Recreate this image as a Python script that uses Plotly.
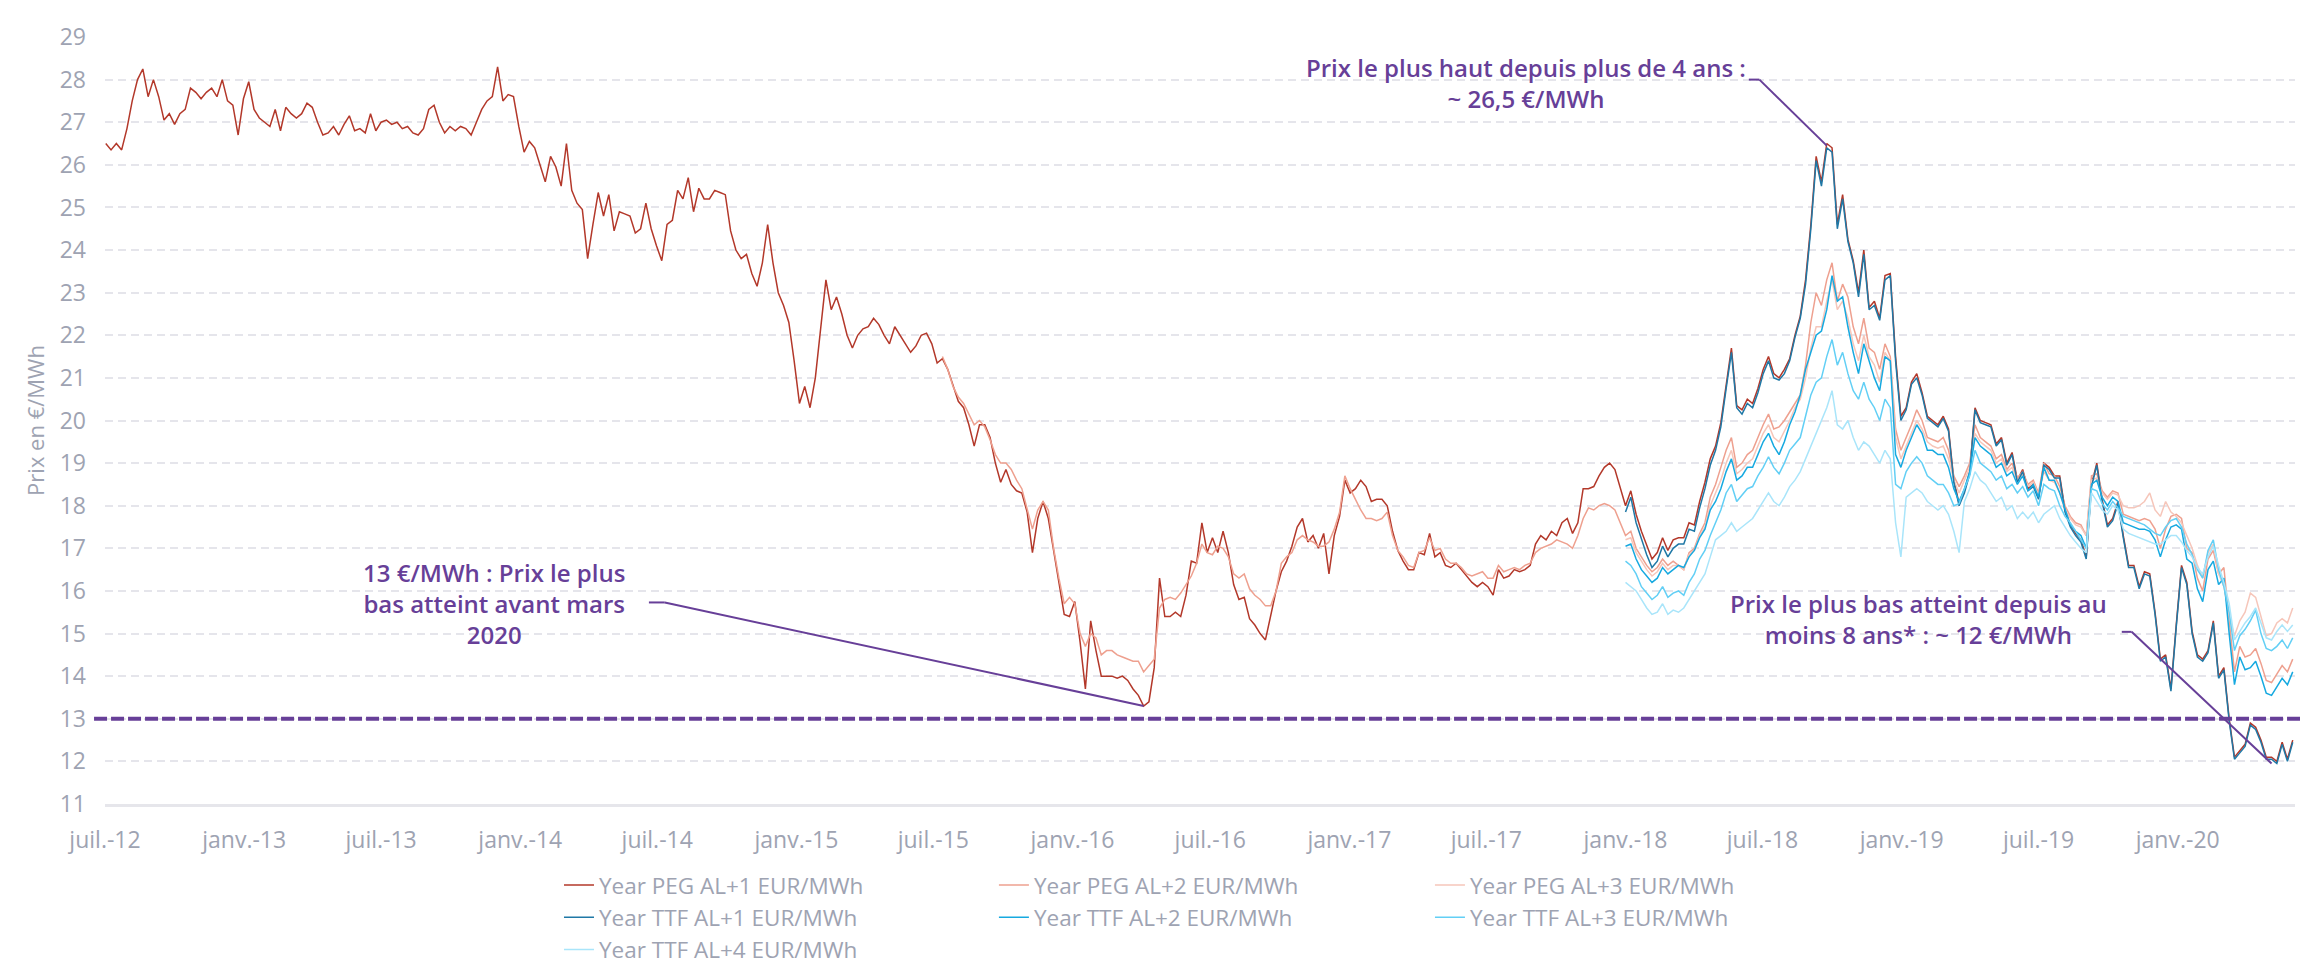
import pandas as pd
import plotly.graph_objects as go

# Weekly year-ahead gas prices, EUR/MWh
peg_al1 = [
    26.5, 26.35, 26.5, 26.35, 26.85, 27.5, 28.0, 28.25, 27.6, 28.0,
    27.6, 27.05, 27.2, 26.95, 27.2, 27.3, 27.8, 27.7, 27.55, 27.7,
    27.8, 27.6, 28.0, 27.5, 27.4, 26.7, 27.55, 27.95, 27.3, 27.1,
    27.0, 26.9, 27.3, 26.8, 27.35, 27.2, 27.1, 27.2, 27.45, 27.35,
    27.0, 26.7, 26.75, 26.9, 26.7, 26.95, 27.15, 26.8, 26.85, 26.75,
    27.2, 26.8, 27.0, 27.05, 26.95, 27.0, 26.85, 26.9, 26.75, 26.7,
    26.85, 27.3, 27.4, 27.0, 26.75, 26.9, 26.8, 26.9, 26.85, 26.7,
    27.0, 27.3, 27.5, 27.6, 28.3, 27.5, 27.65, 27.6, 26.9, 26.3,
    26.55, 26.4, 26.0, 25.6, 26.2, 25.95, 25.5, 26.5, 25.4, 25.1,
    24.95, 23.8, 24.6, 25.35, 24.8, 25.3, 24.45, 24.9, 24.85, 24.8,
    24.4, 24.5, 25.1, 24.5, 24.1, 23.75, 24.6, 24.7, 25.4, 25.2,
    25.7, 24.9, 25.45, 25.2,
    25.2, 25.4, 25.35, 25.3, 24.45, 24.0, 23.8, 23.9, 23.45, 23.15,
    23.7, 24.6, 23.7, 23.0, 22.7, 22.3, 21.4, 20.4, 20.8, 20.3,
    21.0, 22.1, 23.3, 22.6, 22.9, 22.5, 22.0, 21.7, 22.0, 22.15,
    22.2, 22.4, 22.25, 22.0, 21.8, 22.2, 22.0, 21.8, 21.6, 21.75,
    22.0, 22.05, 21.8, 21.35, 21.45, 21.2, 20.8, 20.45, 20.3, 19.9,
    19.4, 19.9, 19.9, 19.6, 19.0, 18.55, 18.85, 18.5, 18.35, 18.3,
    17.85, 16.9, 17.7, 18.1, 17.7, 16.9, 16.2, 15.45, 15.4, 15.75,
    14.8, 13.7, 15.3, 14.6, 14.0, 14.0, 14.0, 13.95, 14.0, 13.9,
    13.7, 13.55, 13.3, 13.4, 14.2, 16.3, 15.4, 15.4, 15.5, 15.4,
    15.9, 16.7, 16.65, 17.6, 16.9, 17.25, 16.9, 17.4, 16.9, 16.15,
    15.8, 15.85, 15.35, 15.2, 15.0, 14.85, 15.45, 16.0, 16.45, 16.7,
    17.05, 17.5, 17.7, 17.15, 17.3, 17.0, 17.35, 16.4, 17.3, 17.75,
    18.6, 18.3, 18.4, 18.6, 18.45, 18.1, 18.15, 18.15, 18.0, 17.4,
    16.95, 16.7, 16.5, 16.5, 16.9, 16.85, 17.35, 16.8, 16.9, 16.6,
    16.55, 16.65, 16.5, 16.35, 16.2, 16.1, 16.2, 16.1, 15.9, 16.5,
    16.3, 16.35, 16.5, 16.45, 16.5, 16.6, 17.1, 17.3, 17.2, 17.4,
    17.3,
    17.6, 17.7, 17.35, 17.6, 18.4, 18.4, 18.45, 18.7, 18.9, 19.0,
    18.85, 18.45, 18.0, 18.35, 17.8, 17.4, 17.05, 16.75, 16.9, 17.25,
    16.95, 17.2, 17.25, 17.25, 17.6, 17.55, 18.1, 18.55, 19.1, 19.4,
    19.95, 20.85, 21.7, 20.35, 20.25, 20.5, 20.4, 20.75, 21.2, 21.5,
    21.1, 21.0, 21.2, 21.45, 22.0, 22.45, 23.3, 24.6, 26.2, 25.6,
    26.5, 26.4, 24.6, 25.3, 24.25, 23.75, 23.0, 24.0, 22.65, 22.8,
    22.4, 23.4, 23.45, 21.5, 20.1, 20.3, 20.9, 21.1, 20.65, 20.1,
    20.0, 19.9, 20.1, 19.8, 18.6, 18.05, 18.35, 18.8, 20.3, 20.0,
    19.95, 19.9, 19.45, 19.6, 19.0, 19.25, 18.6, 18.85, 18.4, 18.5,
    18.2,
    19.0, 18.9, 18.7, 18.7, 17.9, 17.55, 17.35, 17.2, 16.8, 18.5,
    19.0, 18.15, 17.55, 17.7, 18.1, 17.3, 16.6, 16.6, 16.1, 16.45,
    16.4, 15.5, 14.4, 14.5, 13.7, 15.2, 16.6, 16.2, 15.05, 14.5,
    14.4, 14.6, 15.3, 14.0, 14.2, 13.0, 12.1, 12.25, 12.4, 12.9,
    12.8, 12.5, 12.1, 12.1, 12.0, 12.45, 12.05, 12.5,
]

peg_al2 = [
    21.5, 21.2, 20.8, 20.55, 20.4, 20.15, 19.9, 20.0, 19.85, 19.55,
    19.2, 19.0, 19.0, 18.85, 18.6, 18.4, 17.9, 17.45, 17.9, 18.1,
    17.9, 17.0, 16.3, 15.7, 15.85, 15.7, 15.0, 14.7, 15.0, 14.9,
    14.5, 14.6, 14.6, 14.5, 14.45, 14.4, 14.35, 14.35, 14.1, 14.25,
    14.4, 15.6, 15.8, 15.85, 15.8, 15.95, 16.15, 16.35, 16.65, 17.1,
    16.9, 16.85, 17.05, 17.0, 16.8, 16.4, 16.3, 16.4, 16.05, 15.9,
    15.8, 15.65, 15.65, 16.0, 16.65, 16.8, 16.9, 17.2, 17.3, 17.2,
    17.15, 17.05, 17.05, 17.15, 17.45, 17.85, 18.7, 18.4, 18.15, 17.9,
    17.7, 17.7, 17.65, 17.7, 17.85, 17.3, 16.95, 16.8, 16.6, 16.55,
    16.9, 16.95, 17.25, 16.95, 17.0, 16.75, 16.65, 16.65, 16.55, 16.4,
    16.35, 16.4, 16.45, 16.3, 16.3, 16.6, 16.45, 16.5, 16.55, 16.5,
    16.6, 16.65, 16.9, 17.0, 17.05, 17.1, 17.2,
    17.15, 17.1, 17.0, 17.3, 17.7, 17.95, 17.9, 18.0, 18.05, 18.0,
    17.9, 17.6, 17.3, 17.4, 17.0, 16.8, 16.6, 16.45, 16.55, 16.75,
    16.6, 16.7, 16.6, 16.5, 16.9, 17.0, 17.35, 17.6, 18.2, 18.5,
    18.9, 19.3, 19.6, 18.9, 19.0, 19.2, 19.3, 19.6, 19.9, 20.15,
    19.8, 19.85, 20.0, 20.2, 20.4, 20.6, 21.3, 22.3, 23.0, 22.7,
    23.3, 23.7, 22.8, 23.2, 22.9, 22.2, 21.8, 22.4, 21.7, 21.6,
    21.2, 21.8, 21.5, 19.8, 19.3, 19.6, 19.9, 20.25, 20.0, 19.6,
    19.55, 19.5, 19.6, 19.3, 18.7, 18.45, 18.7, 19.0, 19.9, 19.6,
    19.5, 19.4, 19.1, 19.2, 18.85, 19.0, 18.65, 18.8, 18.5, 18.6,
    18.3,
    19.0, 18.75, 18.7, 18.45, 18.0, 17.75, 17.6, 17.55, 17.3, 18.7,
    18.75, 18.35, 18.2, 18.35, 18.3, 17.8, 17.75, 17.7, 17.65, 17.7,
    17.65, 17.45, 17.0, 17.45, 17.75, 17.8, 17.7, 17.0, 16.9, 16.3,
    16.0, 16.75, 16.95, 16.4, 16.55, 15.3, 14.1, 14.7, 14.45, 14.5,
    14.65, 14.3, 13.9, 13.85, 14.05, 14.25, 14.1, 14.4,
]

peg_al3 = [
    17.2, 17.25, 16.9, 16.7, 16.5, 16.35, 16.45, 16.65, 16.5, 16.6,
    16.6, 16.5, 16.85, 16.95, 17.3, 17.5, 18.0, 18.3, 18.6, 19.0,
    19.3, 18.75, 18.85, 19.0, 19.1, 19.4, 19.7, 19.9, 19.6, 19.5,
    19.75, 20.0, 20.3, 20.5, 21.0, 21.7, 22.2, 22.2, 22.8, 23.3,
    22.6, 22.8, 22.4, 21.8, 21.4, 22.0, 21.5, 21.3, 20.9, 21.6,
    21.4, 19.6, 19.1, 19.4, 19.7, 20.0, 19.8, 19.5, 19.4, 19.35,
    19.4, 19.1, 18.6, 18.3, 18.6, 18.9, 19.7, 19.5, 19.4, 19.3,
    19.0, 19.1, 18.8, 18.9, 18.6, 18.75, 18.45, 18.55, 18.25,
    18.8, 18.6, 18.55, 18.3, 17.9, 17.7, 17.55, 17.5, 17.3, 18.6,
    18.65, 18.3, 18.15, 18.3, 18.25, 18.0, 17.95, 17.95, 18.0, 18.1,
    18.3, 17.9, 17.75, 18.1, 17.85, 17.75, 17.6, 17.3, 17.0, 16.6,
    16.3, 16.9, 17.1, 16.4, 16.1, 15.4, 14.95, 15.3, 15.5, 15.95,
    15.85, 15.4, 14.95, 15.0, 15.25, 15.35, 15.25, 15.6,
]

ttf_al1 = [
    17.85, 18.2, 17.6, 17.2, 16.85, 16.55, 16.7, 17.05, 16.8, 17.0,
    17.1, 17.1, 17.45, 17.4, 17.95, 18.4, 18.95, 19.3, 19.85, 20.75,
    21.6, 20.3, 20.15, 20.4, 20.3, 20.65, 21.1, 21.4, 21.0, 20.95,
    21.1, 21.4, 21.95, 22.4, 23.2, 24.5, 26.1, 25.5, 26.4, 26.3,
    24.5, 25.2, 24.2, 23.7, 22.9, 23.9, 22.6, 22.7, 22.35, 23.3,
    23.4, 21.4, 20.0, 20.25, 20.85, 21.0, 20.6, 20.05, 19.95, 19.85,
    20.05, 19.75, 18.55, 18.0, 18.3, 18.75, 20.25, 19.95, 19.9, 19.85,
    19.4, 19.55, 18.95, 19.2, 18.55, 18.8, 18.35, 18.45, 18.15,
    18.95, 18.85, 18.65, 18.65, 17.85, 17.5, 17.3, 17.15, 16.75, 18.45,
    18.95, 18.1, 17.5, 17.65, 18.05, 17.25, 16.55, 16.55, 16.05, 16.4,
    16.35, 15.45, 14.35, 14.45, 13.65, 15.15, 16.55, 16.15, 15.0, 14.45,
    14.35, 14.55, 15.25, 13.95, 14.15, 12.95, 12.05, 12.2, 12.35, 12.85,
    12.75, 12.45, 12.05, 12.05, 11.95, 12.4, 12.0, 12.45,
]

ttf_al2 = [
    17.05, 17.1, 16.75, 16.5, 16.35, 16.2, 16.3, 16.55, 16.4, 16.5,
    16.6, 16.55, 16.8, 16.95, 17.25, 17.45, 17.9, 18.1, 18.4, 18.8,
    19.1, 18.6, 18.7, 18.9, 18.9, 19.2, 19.5, 19.7, 19.4, 19.2,
    19.5, 19.9, 20.2, 20.6, 21.2, 21.6, 22.0, 22.1, 22.6, 23.4,
    22.8, 22.9, 22.2, 21.6, 21.1, 21.8, 21.4, 21.0, 20.7, 21.5,
    21.4, 19.2, 18.9, 19.3, 19.6, 19.9, 19.7, 19.3, 19.3, 19.2,
    19.2, 18.9, 18.4, 18.1, 18.4, 18.8, 19.6, 19.4, 19.3, 19.2,
    18.9, 19.0, 18.7, 18.8, 18.5, 18.7, 18.35, 18.5, 18.2,
    18.9, 18.6, 18.6, 18.3, 17.9, 17.55, 17.4, 17.3, 17.0, 18.5,
    18.6, 18.2, 18.0, 18.2, 18.1, 17.6, 17.55, 17.5, 17.45, 17.45,
    17.4, 17.2, 16.8, 17.2, 17.5, 17.55, 17.45, 16.75, 16.65, 16.05,
    15.75, 16.5, 16.7, 16.15, 16.3, 15.0, 13.8, 14.45, 14.15, 14.2,
    14.35, 14.0, 13.6, 13.55, 13.75, 13.95, 13.8, 14.1,
]

ttf_al3 = [
    16.7, 16.6, 16.4, 16.1, 15.95, 15.8, 15.9, 16.1, 15.85, 15.95,
    16.0, 15.9, 16.2, 16.4, 16.75, 16.95, 17.3, 17.6, 17.9, 18.3,
    18.5, 18.1, 18.25, 18.4, 18.45, 18.7, 18.9, 19.15, 18.9, 18.75,
    19.0, 19.3, 19.45, 19.6, 20.1, 20.6, 20.9, 21.0, 21.5, 21.9,
    21.3, 21.6, 21.1, 20.7, 20.5, 20.9, 20.5, 20.3, 20.0, 20.5,
    20.3, 18.5, 18.4, 18.8, 19.0, 19.15, 19.0, 18.7, 18.6, 18.5,
    18.5, 18.3, 18.0, 18.05, 18.4, 18.7, 19.3, 19.0, 18.9, 18.8,
    18.6, 18.7, 18.4, 18.5, 18.3, 18.45, 18.2, 18.35, 18.0,
    18.5, 18.4, 18.35, 18.0, 17.75, 17.6, 17.4, 17.2, 17.0, 18.4,
    18.35, 18.05, 17.9, 18.1, 17.95, 17.75, 17.7, 17.65, 17.6, 17.55,
    17.45, 17.35, 17.3, 17.5, 17.65, 17.7, 17.5, 17.1, 16.85, 16.5,
    16.3, 16.95, 17.2, 16.5, 16.1, 15.5, 14.6, 14.95, 15.1, 15.3,
    15.55, 15.0, 14.65, 14.6, 14.7, 14.85, 14.65, 14.9,
]

ttf_al4 = [
    16.2, 16.1, 16.0, 15.8, 15.6, 15.45, 15.5, 15.7, 15.45, 15.55,
    15.5, 15.6, 15.8, 16.0, 16.2, 16.4, 16.8, 17.2, 17.3, 17.4,
    17.6, 17.4, 17.5, 17.6, 17.7, 17.9, 18.1, 18.3, 18.1, 18.0,
    18.2, 18.45, 18.6, 18.8, 19.1, 19.4, 19.7, 20.0, 20.3, 20.7,
    19.9, 19.8, 20.0, 19.6, 19.3, 19.5, 19.4, 19.2, 19.0, 19.3,
    19.1, 17.6, 16.8, 18.2, 18.3, 18.4, 18.3, 18.1, 18.0, 17.9,
    18.0, 17.8, 17.4, 16.9, 18.1, 18.4, 18.8, 18.6, 18.5, 18.3,
    18.1, 18.2, 17.9, 18.0, 17.7, 17.85, 17.7, 17.85, 17.6,
    17.8, 17.9, 18.0, 17.7, 17.5, 17.3, 17.15, 17.0, 16.9, 18.3,
    18.1, 17.9, 17.8, 18.0, 17.9, 17.45, 17.35, 17.3, 17.25, 17.2,
    17.15, 17.1, 17.1, 17.2, 17.3, 17.3, 17.15, 16.95, 16.8, 16.55,
    16.4, 16.8, 17.05, 16.6, 16.2, 15.7, 14.85, 15.05, 15.25, 15.4,
    15.6, 15.25, 14.9, 14.85, 15.05, 15.2, 15.05, 15.2,
]

# first weekly quote of each series
peg_al1_start = "2012-07-02"
peg_al2_start = "2015-07-13"
ttf_start = "2018-01-01"

tick_dates = [
    "2012-07-01", "2013-01-01", "2013-07-01", "2014-01-01", "2014-07-01",
    "2015-01-01", "2015-07-01", "2016-01-01", "2016-07-01", "2017-01-01",
    "2017-07-01", "2018-01-01", "2018-07-01", "2019-01-01", "2019-07-01",
    "2020-01-01",
]
tick_labels = [
    "juil.-12", "janv.-13", "juil.-13", "janv.-14", "juil.-14", "janv.-15",
    "juil.-15", "janv.-16", "juil.-16", "janv.-17", "juil.-17", "janv.-18",
    "juil.-18", "janv.-19", "juil.-19", "janv.-20",
]

# Colours / fonts
purple = "#673f98"
grey_txt = "#9ea3b2"
grid_col = "#e5e5eb"
font_fam = "Open Sans, sans-serif"

series = [
    ("Year PEG AL+1 EUR/MWh", peg_al1, peg_al1_start, "#b3382a", "legend"),
    ("Year PEG AL+2 EUR/MWh", peg_al2, peg_al2_start, "#eea08f", "legend2"),
    ("Year PEG AL+3 EUR/MWh", peg_al3, ttf_start, "#f6c6ba", "legend3"),
    ("Year TTF AL+1 EUR/MWh", ttf_al1, ttf_start, "#1f78a6", "legend"),
    ("Year TTF AL+2 EUR/MWh", ttf_al2, ttf_start, "#16a9e0", "legend2"),
    ("Year TTF AL+3 EUR/MWh", ttf_al3, ttf_start, "#62cff5", "legend3"),
    ("Year TTF AL+4 EUR/MWh", ttf_al4, ttf_start, "#a9e5fa", "legend"),
]

fig = go.Figure()
for name, vals, start, color, leg in series:
    dates = pd.date_range(start, periods=len(vals), freq="7D")
    fig.add_trace(go.Scatter(
        x=dates, y=vals, mode="lines", name=name,
        line=dict(color=color, width=1.5),
        legend=leg,
    ))

# 13 EUR/MWh reference line (runs slightly past the plot on both sides)
fig.add_shape(
    type="line", xref="paper", yref="y",
    x0=-0.005, x1=1.01, y0=13, y1=13,
    line=dict(color=purple, width=4, dash="13px,4px"),
)

# Callouts: text block + elbow connector to the point
callouts = [
    ("Prix le plus haut depuis plus de 4 ans :<br>~ 26,5 €/MWh",
     "2017-08-23", 27.93,
     [("2018-06-13", 28.0), ("2018-06-27", 28.0), ("2018-09-24", 26.45)]),
    ("13 €/MWh : Prix le plus<br>bas atteint avant mars<br>2020",
     "2013-11-27", 15.71,
     [("2014-06-20", 15.73), ("2014-07-11", 15.73), ("2016-04-04", 13.3)]),
    ("Prix le plus bas atteint depuis au<br>moins 8 ans* : ~ 12 €/MWh",
     "2019-01-23", 15.34,
     [("2019-10-19", 15.04), ("2019-11-01", 15.04), ("2020-05-04", 11.95)]),
]
for text, tx, ty, path in callouts:
    fig.add_annotation(
        x=tx, y=ty, text=text, showarrow=False,
        xanchor="center", yanchor="middle",
        font=dict(family=font_fam, size=24, color=purple, weight=600),
    )
    for (x0, y0), (x1, y1) in zip(path[:-1], path[1:]):
        fig.add_shape(type="line", xref="x", yref="y",
                      x0=x0, y0=y0, x1=x1, y1=y1,
                      line=dict(color=purple, width=2))

fig.update_xaxes(
    type="date",
    range=["2012-07-01", "2020-06-04"],
    tickmode="array", tickvals=tick_dates, ticktext=tick_labels,
    showgrid=False, zeroline=False,
    showline=True, linecolor="#e6e6eb", linewidth=2.5,
    ticks="", ticklabelstandoff=14,
    tickfont=dict(family=font_fam, size=23, color=grey_txt),
)

fig.update_yaxes(
    range=[11, 29], tick0=11, dtick=1,
    showgrid=True, gridcolor=grid_col, gridwidth=2, griddash="8px,5px",
    zeroline=False, showline=False,
    ticks="", ticklabelstandoff=18,
    tickfont=dict(family=font_fam, size=23, color=grey_txt),
    title=dict(text="Prix en €/MWh", standoff=8,
               font=dict(family=font_fam, size=22, color=grey_txt)),
)

leg_style = dict(
    orientation="v", xanchor="left", yanchor="top", y=-0.078,
    bgcolor="rgba(0,0,0,0)", tracegroupgap=0,
    font=dict(family=font_fam, size=22.5, color=grey_txt),
)

fig.update_layout(
    width=2308,
    height=975,
    margin=dict(l=97, r=21, t=18, b=154),
    paper_bgcolor="white",
    plot_bgcolor="white",
    showlegend=True,
    legend=dict(x=0.2073, **leg_style),
    legend2=dict(x=0.4059, **leg_style),
    legend3=dict(x=0.605, **leg_style),
)

fig.write_html("out.html")
